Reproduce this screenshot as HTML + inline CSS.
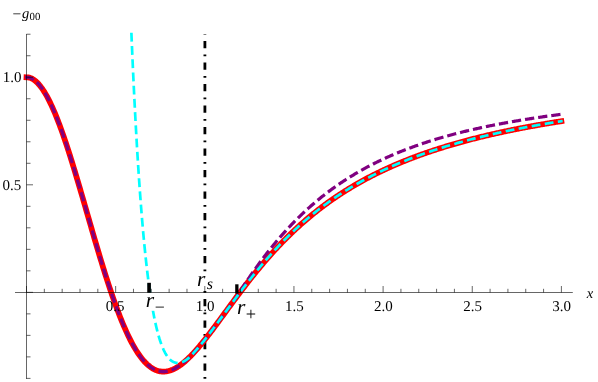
<!DOCTYPE html>
<html><head><meta charset="utf-8"><title>plot</title><style>
html,body{margin:0;padding:0;background:#fff;overflow:hidden}
svg{display:block}
text{font-family:"Liberation Serif",serif;fill:#000;text-rendering:geometricPrecision}
</style></head><body>
<svg width="598" height="382" viewBox="0 0 598 382">
<rect width="598" height="382" fill="#fff"/>
<line x1="204.9" y1="34.2" x2="204.9" y2="379.2" stroke="#000" stroke-width="2.8" stroke-dasharray="1.8 6.25 7.2 6.26" stroke-dashoffset="1.3"/>
<path d="M26.50 77.25L27.39 77.29L28.28 77.40L29.17 77.59L30.07 77.85L30.96 78.18L31.85 78.59L32.74 79.08L33.63 79.64L34.52 80.27L35.41 80.97L36.31 81.75L37.20 82.60L38.09 83.52L38.98 84.51L39.87 85.57L40.76 86.70L41.66 87.89L42.55 89.16L43.44 90.49L44.33 91.89L45.22 93.36L46.11 94.88L47.00 96.48L47.90 98.13L48.79 99.85L49.68 101.62L50.57 103.46L51.46 105.35L52.35 107.30L53.25 109.30L54.14 111.36L55.03 113.47L55.92 115.64L56.81 117.85L57.70 120.12L58.59 122.43L59.49 124.79L60.38 127.19L61.27 129.64L62.16 132.13L63.05 134.66L63.94 137.24L64.83 139.85L65.73 142.49L66.62 145.17L67.51 147.89L68.40 150.64L69.29 153.42L70.18 156.23L71.08 159.06L71.97 161.92L72.86 164.81L73.75 167.72L74.64 170.66L75.53 173.61L76.42 176.59L77.32 179.58L78.21 182.59L79.10 185.61L79.99 188.64L80.88 191.69L81.77 194.75L82.66 197.81L83.56 200.89L84.45 203.97L85.34 207.05L86.23 210.14L87.12 213.23L88.01 216.32L88.91 219.41L89.80 222.49L90.69 225.57L91.58 228.65L92.47 231.72L93.36 234.78L94.25 237.84L95.15 240.88L96.04 243.91L96.93 246.93L97.82 249.93L98.71 252.92L99.60 255.89L100.49 258.84L101.39 261.77L102.28 264.68L103.17 267.57L104.06 270.44L104.95 273.28L105.84 276.10L106.74 278.89L107.63 281.66L108.52 284.39L109.41 287.10L110.30 289.77L111.19 292.42L112.08 295.03L112.98 297.61L113.87 300.15L114.76 302.66L115.65 305.13L116.54 307.57L117.43 309.96L118.32 312.32L119.22 314.64L120.11 316.92L121.00 319.16L121.89 321.35L122.78 323.51L123.67 325.62L124.57 327.69L125.46 329.71L126.35 331.69L127.24 333.62L128.13 335.50L129.02 337.35L129.91 339.14L130.81 340.89L131.70 342.58L132.59 344.24L133.48 345.84L134.37 347.39L135.26 348.90L136.15 350.36L137.05 351.77L137.94 353.13L138.83 354.44L139.72 355.70L140.61 356.91L141.50 358.07L142.40 359.18L143.29 360.24L144.18 361.26L145.07 362.22L145.96 363.14L146.85 364.00L147.74 364.82L148.64 365.59L149.53 366.31L150.42 366.99L151.31 367.61L152.20 368.19L153.09 368.72L153.98 369.21L154.88 369.65L155.77 370.04L156.66 370.39L157.55 370.69L158.44 370.95L159.33 371.16L160.23 371.34L161.12 371.46L162.01 371.55L162.90 371.60L163.79 371.60L164.68 371.57L165.57 371.49L166.47 371.38L167.36 371.23L168.25 371.04L169.14 370.81L170.03 370.55L170.92 370.25L171.81 369.91L172.71 369.55L173.60 369.15L174.49 368.71L175.38 368.25L176.27 367.75L177.16 367.22L178.06 366.66L178.95 366.08L179.84 365.46L180.73 364.82L181.62 364.15L182.51 363.46L183.40 362.74L184.30 361.99L185.19 361.22L186.08 360.43L186.97 359.62L187.86 358.78L188.75 357.93L189.64 357.05L190.54 356.15L191.43 355.24L192.32 354.30L193.21 353.35L194.10 352.38L194.99 351.40L195.89 350.40L196.78 349.38L197.67 348.35L198.56 347.31L199.45 346.26L200.34 345.19L201.23 344.11L202.13 343.01L203.02 341.91L203.91 340.80L204.80 339.68L205.69 338.55L206.58 337.41L207.47 336.26L208.37 335.10L209.26 333.94L210.15 332.77L211.04 331.60L211.93 330.42L212.82 329.23L213.72 328.04L214.61 326.84L215.50 325.64L216.39 324.44L217.28 323.24L218.17 322.03L219.06 320.82L219.96 319.60L220.85 318.39L221.74 317.17L222.63 315.96L223.52 314.74L224.41 313.52L225.30 312.30L226.20 311.08L227.09 309.87L227.98 308.65L228.87 307.43L229.76 306.22L230.65 305.01L231.55 303.79L232.44 302.59L233.33 301.38L234.22 300.17L235.11 298.97L236.00 297.77L236.89 296.58L237.79 295.38L238.68 294.19L239.57 293.01L240.46 291.83L241.35 290.65L242.24 289.47L243.13 288.30L244.03 287.14L244.92 285.97L245.81 284.82L246.70 283.66L247.59 282.52L248.48 281.37L249.38 280.23L250.27 279.10L251.16 277.97L252.05 276.85L252.94 275.73L253.83 274.62L254.72 273.52L255.62 272.41L256.51 271.32L257.40 270.23L258.29 269.14L259.18 268.07L260.07 266.99L260.96 265.93L261.86 264.87L262.75 263.81L263.64 262.76L264.53 261.72L265.42 260.68L266.31 259.65L267.21 258.62L268.10 257.61L268.99 256.59L269.88 255.59L270.77 254.59L271.66 253.59L272.55 252.60L273.45 251.62L274.34 250.64L275.23 249.67L276.12 248.71L277.01 247.75L277.90 246.80L278.79 245.86L279.69 244.92L280.58 243.98L281.47 243.06L282.36 242.13L283.25 241.22L284.14 240.31L285.04 239.41L285.93 238.51L286.82 237.62L287.71 236.74L288.60 235.86L289.49 234.98L290.38 234.12L291.28 233.26L292.17 232.40L293.06 231.55L293.95 230.71L294.84 229.87L295.73 229.04L296.62 228.21L297.52 227.39L298.41 226.58L299.30 225.77L300.19 224.96L301.08 224.17L301.97 223.37L302.87 222.59L303.76 221.81L304.65 221.03L305.54 220.26L306.43 219.49L307.32 218.74L308.21 217.98L309.11 217.23L310.00 216.49L310.89 215.75L311.78 215.02L312.67 214.29L313.56 213.57L314.45 212.85L315.35 212.14L316.24 211.43L317.13 210.73L318.02 210.03L318.91 209.34L319.80 208.65L320.70 207.97L321.59 207.29L322.48 206.62L323.37 205.95L324.26 205.28L325.15 204.62L326.04 203.97L326.94 203.32L327.83 202.68L328.72 202.03L329.61 201.40L330.50 200.77L331.39 200.14L332.28 199.52L333.18 198.90L334.07 198.29L334.96 197.68L335.85 197.07L336.74 196.47L337.63 195.87L338.53 195.28L339.42 194.69L340.31 194.11L341.20 193.53L342.09 192.95L342.98 192.38L343.87 191.81L344.77 191.25L345.66 190.69L346.55 190.13L347.44 189.58L348.33 189.03L349.22 188.48L350.11 187.94L351.01 187.41L351.90 186.87L352.79 186.34L353.68 185.82L354.57 185.29L355.46 184.77L356.36 184.26L357.25 183.75L358.14 183.24L359.03 182.73L359.92 182.23L360.81 181.73L361.70 181.24L362.60 180.75L363.49 180.26L364.38 179.78L365.27 179.29L366.16 178.82L367.05 178.34L367.94 177.87L368.84 177.40L369.73 176.94L370.62 176.47L371.51 176.01L372.40 175.56L373.29 175.10L374.19 174.65L375.08 174.21L375.97 173.76L376.86 173.32L377.75 172.88L378.64 172.45L379.53 172.02L380.43 171.59L381.32 171.16L382.21 170.74L383.10 170.32L383.99 169.90L384.88 169.48L385.77 169.07L386.67 168.66L387.56 168.25L388.45 167.85L389.34 167.44L390.23 167.04L391.12 166.65L392.01 166.25L392.91 165.86L393.80 165.47L394.69 165.08L395.58 164.70L396.47 164.32L397.36 163.94L398.26 163.56L399.15 163.19L400.04 162.81L400.93 162.44L401.82 162.08L402.71 161.71L403.60 161.35L404.50 160.99L405.39 160.63L406.28 160.27L407.17 159.92L408.06 159.57L408.95 159.22L409.85 158.87L410.74 158.53L411.63 158.18L412.52 157.84L413.41 157.50L414.30 157.17L415.19 156.83L416.09 156.50L416.98 156.17L417.87 155.84L418.76 155.51L419.65 155.19L420.54 154.87L421.43 154.55L422.33 154.23L423.22 153.91L424.11 153.60L425.00 153.28L425.89 152.97L426.78 152.66L427.68 152.36L428.57 152.05L429.46 151.75L430.35 151.45L431.24 151.15L432.13 150.85L433.02 150.55L433.92 150.26L434.81 149.96L435.70 149.67L436.59 149.38L437.48 149.10L438.37 148.81L439.26 148.53L440.16 148.24L441.05 147.96L441.94 147.68L442.83 147.41L443.72 147.13L444.61 146.86L445.51 146.58L446.40 146.31L447.29 146.04L448.18 145.77L449.07 145.51L449.96 145.24L450.85 144.98L451.75 144.72L452.64 144.46L453.53 144.20L454.42 143.94L455.31 143.68L456.20 143.43L457.09 143.17L457.99 142.92L458.88 142.67L459.77 142.42L460.66 142.18L461.55 141.93L462.44 141.69L463.34 141.44L464.23 141.20L465.12 140.96L466.01 140.72L466.90 140.48L467.79 140.25L468.68 140.01L469.58 139.78L470.47 139.54L471.36 139.31L472.25 139.08L473.14 138.85L474.03 138.62L474.92 138.40L475.82 138.17L476.71 137.95L477.60 137.73L478.49 137.51L479.38 137.28L480.27 137.07L481.17 136.85L482.06 136.63L482.95 136.42L483.84 136.20L484.73 135.99L485.62 135.78L486.51 135.56L487.41 135.35L488.30 135.15L489.19 134.94L490.08 134.73L490.97 134.53L491.86 134.32L492.75 134.12L493.65 133.92L494.54 133.72L495.43 133.51L496.32 133.32L497.21 133.12L498.10 132.92L499.00 132.73L499.89 132.53L500.78 132.34L501.67 132.14L502.56 131.95L503.45 131.76L504.34 131.57L505.24 131.38L506.13 131.19L507.02 131.01L507.91 130.82L508.80 130.64L509.69 130.45L510.58 130.27L511.48 130.09L512.37 129.91L513.26 129.72L514.15 129.55L515.04 129.37L515.93 129.19L516.83 129.01L517.72 128.84L518.61 128.66L519.50 128.49L520.39 128.31L521.28 128.14L522.17 127.97L523.07 127.80L523.96 127.63L524.85 127.46L525.74 127.29L526.63 127.13L527.52 126.96L528.41 126.79L529.31 126.63L530.20 126.47L531.09 126.30L531.98 126.14L532.87 125.98L533.76 125.82L534.65 125.66L535.55 125.50L536.44 125.34L537.33 125.18L538.22 125.03L539.11 124.87L540.00 124.71L540.90 124.56L541.79 124.41L542.68 124.25L543.57 124.10L544.46 123.95L545.35 123.80L546.24 123.65L547.14 123.50L548.03 123.35L548.92 123.20L549.81 123.05L550.70 122.91L551.59 122.76L552.49 122.62L553.38 122.47L554.27 122.33L555.16 122.18L556.05 122.04L556.94 121.90L557.83 121.76L558.73 121.62L559.62 121.48L560.51 121.34L561.40 121.20" fill="none" stroke="#ff0000" stroke-width="5.7" stroke-linecap="square" stroke-linejoin="round"/>
<path d="M25.05 77.25L26.50 77.25L27.39 77.29L28.28 77.40L29.17 77.59L30.07 77.85L30.96 78.18L31.85 78.59L32.74 79.08L33.63 79.64L34.52 80.27L35.41 80.97L36.31 81.75L37.20 82.60L38.09 83.52L38.98 84.51L39.87 85.57L40.76 86.70L41.66 87.89L42.55 89.16L43.44 90.49L44.33 91.89L45.22 93.36L46.11 94.88L47.00 96.48L47.90 98.13L48.79 99.85L49.68 101.62L50.57 103.46L51.46 105.35L52.35 107.30L53.25 109.30L54.14 111.36L55.03 113.47L55.92 115.64L56.81 117.85L57.70 120.12L58.59 122.43L59.49 124.79L60.38 127.19L61.27 129.64L62.16 132.13L63.05 134.66L63.94 137.24L64.83 139.85L65.73 142.49L66.62 145.17L67.51 147.89L68.40 150.64L69.29 153.42L70.18 156.23L71.08 159.06L71.97 161.92L72.86 164.81L73.75 167.72L74.64 170.66L75.53 173.61L76.42 176.59L77.32 179.58L78.21 182.59L79.10 185.61L79.99 188.64L80.88 191.69L81.77 194.75L82.66 197.81L83.56 200.89L84.45 203.97L85.34 207.05L86.23 210.14L87.12 213.23L88.01 216.32L88.91 219.41L89.80 222.49L90.69 225.57L91.58 228.65L92.47 231.72L93.36 234.78L94.25 237.84L95.15 240.88L96.04 243.91L96.93 246.93L97.82 249.93L98.71 252.92L99.60 255.89L100.49 258.84L101.39 261.77L102.28 264.68L103.17 267.57L104.06 270.44L104.95 273.28L105.84 276.10L106.74 278.89L107.63 281.66L108.52 284.39L109.41 287.10L110.30 289.77L111.19 292.42L112.08 295.03L112.98 297.61L113.87 300.15L114.76 302.66L115.65 305.13L116.54 307.57L117.43 309.96L118.32 312.32L119.22 314.64L120.11 316.92L121.00 319.16L121.89 321.35L122.78 323.51L123.67 325.62L124.57 327.69L125.46 329.71L126.35 331.69L127.24 333.62L128.13 335.50L129.02 337.35L129.91 339.14L130.81 340.89L131.70 342.58L132.59 344.24L133.48 345.84L134.37 347.39L135.26 348.90L136.15 350.36L137.05 351.77L137.94 353.13L138.83 354.44L139.72 355.70L140.61 356.91L141.50 358.07L142.40 359.18L143.29 360.24L144.18 361.26L145.07 362.22L145.96 363.14L146.85 364.00L147.74 364.82L148.64 365.59L149.53 366.31L150.42 366.99L151.31 367.61L152.20 368.19L153.09 368.72L153.98 369.21L154.88 369.65L155.77 370.04L156.66 370.39L157.55 370.69L158.44 370.95L159.33 371.16L160.23 371.34L161.12 371.46L162.01 371.55L162.90 371.60L163.79 371.60L164.68 371.57L165.57 371.49L166.47 371.38L167.36 371.23L168.25 371.04L169.14 370.81L170.03 370.55L170.92 370.25L171.81 369.91L172.71 369.55L173.60 369.15L174.49 368.71L175.38 368.25L176.27 367.75L177.16 367.22L178.06 366.66L178.95 366.08L179.84 365.46L180.73 364.82L181.62 364.15L182.51 363.46L183.40 362.74L184.30 361.99L185.19 361.22L186.08 360.43L186.97 359.62L187.86 358.78L188.75 357.93L189.64 357.05L190.54 356.15L191.43 355.24L192.32 354.30L193.21 353.35L194.10 352.38L194.99 351.40L195.89 350.40L196.78 349.38L197.67 348.35L198.56 347.31L199.45 346.26L200.34 345.19L201.23 344.11L202.13 343.01L203.02 341.91L203.91 340.80L204.80 339.68L205.69 338.55L206.58 337.41L207.47 336.26L208.37 335.10L209.26 333.94L210.15 332.77L211.04 331.60L211.93 330.42L212.82 329.23L213.72 328.04L214.61 326.84L215.50 325.64L216.39 324.44L217.28 323.24L218.17 322.03L219.06 320.82L219.96 319.60L220.85 318.39L221.74 317.17L222.63 315.96L223.52 314.74L224.41 313.52L225.30 312.30L226.20 311.08L227.09 309.87L227.98 308.65L228.87 307.43L229.76 306.22L230.65 305.01L231.55 303.79L232.44 302.59L233.33 301.38L234.22 300.17L235.11 298.97L236.00 297.77L236.89 296.45L237.79 295.01L238.68 293.59L239.57 292.18L240.46 290.78L241.35 289.40L242.24 288.02L243.13 286.65L244.03 285.29L244.92 283.94L245.81 282.60L246.70 281.27L247.59 279.94L248.48 278.63L249.38 277.32L250.27 276.02L251.16 274.72L252.05 273.44L252.94 272.16L253.83 270.90L254.72 269.64L255.62 268.38L256.51 267.14L257.40 265.91L258.29 264.68L259.18 263.46L260.07 262.25L260.96 261.04L261.86 259.85L262.75 258.66L263.64 257.49L264.53 256.31L265.42 255.15L266.31 254.00L267.21 252.85L268.10 251.71L268.99 250.58L269.88 249.46L270.77 248.35L271.66 247.24L272.55 246.15L273.45 245.06L274.34 243.97L275.23 242.90L276.12 241.83L277.01 240.78L277.90 239.73L278.79 238.68L279.69 237.65L280.58 236.62L281.47 235.60L282.36 234.59L283.25 233.59L284.14 232.59L285.04 231.60L285.93 230.62L286.82 229.65L287.71 228.68L288.60 227.72L289.49 226.77L290.38 225.82L291.28 224.89L292.17 223.96L293.06 223.04L293.95 222.12L294.84 221.21L295.73 220.31L296.62 219.42L297.52 218.53L298.41 217.65L299.30 216.78L300.19 215.91L301.08 215.05L301.97 214.20L302.87 213.35L303.76 212.51L304.65 211.68L305.54 210.85L306.43 210.03L307.32 209.22L308.21 208.42L309.11 207.62L310.00 206.82L310.89 206.03L311.78 205.25L312.67 204.48L313.56 203.71L314.45 202.95L315.35 202.19L316.24 201.44L317.13 200.69L318.02 199.96L318.91 199.22L319.80 198.50L320.70 197.77L321.59 197.06L322.48 196.35L323.37 195.65L324.26 194.95L325.15 194.25L326.04 193.57L326.94 192.88L327.83 192.21L328.72 191.54L329.61 190.87L330.50 190.21L331.39 189.56L332.28 188.91L333.18 188.26L334.07 187.62L334.96 186.99L335.85 186.36L336.74 185.73L337.63 185.11L338.53 184.50L339.42 183.89L340.31 183.28L341.20 182.68L342.09 182.09L342.98 181.50L343.87 180.91L344.77 180.33L345.66 179.75L346.55 179.18L347.44 178.61L348.33 178.05L349.22 177.49L350.11 176.94L351.01 176.39L351.90 175.84L352.79 175.30L353.68 174.76L354.57 174.23L355.46 173.70L356.36 173.18L357.25 172.66L358.14 172.14L359.03 171.63L359.92 171.12L360.81 170.61L361.70 170.11L362.60 169.62L363.49 169.12L364.38 168.63L365.27 168.15L366.16 167.67L367.05 167.19L367.94 166.71L368.84 166.24L369.73 165.78L370.62 165.31L371.51 164.85L372.40 164.40L373.29 163.95L374.19 163.50L375.08 163.05L375.97 162.61L376.86 162.17L377.75 161.73L378.64 161.30L379.53 160.87L380.43 160.45L381.32 160.02L382.21 159.60L383.10 159.19L383.99 158.77L384.88 158.36L385.77 157.96L386.67 157.55L387.56 157.15L388.45 156.75L389.34 156.36L390.23 155.97L391.12 155.58L392.01 155.19L392.91 154.81L393.80 154.43L394.69 154.05L395.58 153.68L396.47 153.30L397.36 152.93L398.26 152.57L399.15 152.20L400.04 151.84L400.93 151.48L401.82 151.13L402.71 150.78L403.60 150.42L404.50 150.08L405.39 149.73L406.28 149.39L407.17 149.05L408.06 148.71L408.95 148.37L409.85 148.04L410.74 147.71L411.63 147.38L412.52 147.05L413.41 146.73L414.30 146.41L415.19 146.09L416.09 145.77L416.98 145.46L417.87 145.15L418.76 144.84L419.65 144.53L420.54 144.22L421.43 143.92L422.33 143.62L423.22 143.32L424.11 143.02L425.00 142.73L425.89 142.43L426.78 142.14L427.68 141.85L428.57 141.57L429.46 141.28L430.35 141.00L431.24 140.72L432.13 140.44L433.02 140.16L433.92 139.89L434.81 139.62L435.70 139.34L436.59 139.08L437.48 138.81L438.37 138.54L439.26 138.28L440.16 138.02L441.05 137.76L441.94 137.50L442.83 137.24L443.72 136.99L444.61 136.73L445.51 136.48L446.40 136.23L447.29 135.98L448.18 135.74L449.07 135.49L449.96 135.25L450.85 135.01L451.75 134.77L452.64 134.53L453.53 134.29L454.42 134.06L455.31 133.82L456.20 133.59L457.09 133.36L457.99 133.13L458.88 132.91L459.77 132.68L460.66 132.46L461.55 132.23L462.44 132.01L463.34 131.79L464.23 131.57L465.12 131.36L466.01 131.14L466.90 130.93L467.79 130.71L468.68 130.50L469.58 130.29L470.47 130.08L471.36 129.88L472.25 129.67L473.14 129.47L474.03 129.26L474.92 129.06L475.82 128.86L476.71 128.66L477.60 128.46L478.49 128.26L479.38 128.07L480.27 127.87L481.17 127.68L482.06 127.49L482.95 127.30L483.84 127.11L484.73 126.92L485.62 126.73L486.51 126.55L487.41 126.36L488.30 126.18L489.19 126.00L490.08 125.81L490.97 125.63L491.86 125.46L492.75 125.28L493.65 125.10L494.54 124.92L495.43 124.75L496.32 124.58L497.21 124.40L498.10 124.23L499.00 124.06L499.89 123.89L500.78 123.72L501.67 123.56L502.56 123.39L503.45 123.22L504.34 123.06L505.24 122.90L506.13 122.73L507.02 122.57L507.91 122.41L508.80 122.25L509.69 122.09L510.58 121.94L511.48 121.78L512.37 121.62L513.26 121.47L514.15 121.31L515.04 121.16L515.93 121.01L516.83 120.86L517.72 120.71L518.61 120.56L519.50 120.41L520.39 120.26L521.28 120.12L522.17 119.97L523.07 119.82L523.96 119.68L524.85 119.54L525.74 119.39L526.63 119.25L527.52 119.11L528.41 118.97L529.31 118.83L530.20 118.69L531.09 118.56L531.98 118.42L532.87 118.28L533.76 118.15L534.65 118.01L535.55 117.88L536.44 117.74L537.33 117.61L538.22 117.48L539.11 117.35L540.00 117.22L540.90 117.09L541.79 116.96L542.68 116.83L543.57 116.71L544.46 116.58L545.35 116.45L546.24 116.33L547.14 116.20L548.03 116.08L548.92 115.96L549.81 115.83L550.70 115.71L551.59 115.59L552.49 115.47L553.38 115.35L554.27 115.23L555.16 115.11L556.05 115.00L556.94 114.88L557.83 114.76L558.73 114.65L559.62 114.53L560.51 114.42L561.40 114.30" fill="none" stroke="#800080" stroke-width="3.2" stroke-dasharray="9.3 3.96" stroke-dashoffset="-0" stroke-linejoin="round"/>
<path d="M131.38 32.80L131.52 36.17L131.66 39.51L131.80 42.82L131.94 46.10L132.08 49.35L132.22 52.57L132.36 55.76L132.50 58.92L132.64 62.05L132.78 65.16L132.91 68.24L133.05 71.28L133.19 74.30L133.33 77.30L133.47 80.26L133.61 83.20L133.75 86.12L133.89 89.00L134.03 91.86L134.17 94.70L134.31 97.50L134.45 100.29L134.59 103.04L134.73 105.78L134.87 108.48L135.00 111.16L135.14 113.82L135.28 116.46L135.42 119.07L135.56 121.65L135.70 124.21L135.84 126.75L135.98 129.27L136.12 131.76L136.26 134.23L136.40 136.68L136.54 139.10L136.68 141.51L136.82 143.89L136.95 146.25L137.09 148.59L137.23 150.90L137.37 153.20L137.51 155.47L137.65 157.72L137.79 159.95L137.93 162.17L138.07 164.36L138.21 166.53L138.35 168.68L138.49 170.81L138.63 172.92L138.77 175.02L138.91 177.09L139.04 179.14L139.18 181.18L139.32 183.19L139.46 185.19L139.60 187.17L139.74 189.13L139.88 191.07L140.02 193.00L140.16 194.90L140.30 196.79L140.44 198.67L140.58 200.52L140.72 202.36L140.86 204.18L141.00 205.98L141.13 207.76L141.27 209.53L141.41 211.29L141.55 213.02L141.69 214.74L141.83 216.45L141.97 218.14L142.11 219.81L142.25 221.46L142.39 223.10L142.53 224.73L142.67 226.34L142.81 227.94L142.95 229.52L143.08 231.08L143.22 232.63L143.36 234.17L143.50 235.69L143.64 237.19L143.78 238.69L143.92 240.17L144.06 241.63L144.20 243.08L144.34 244.52L144.48 245.94L144.62 247.35L144.76 248.74L144.90 250.13L145.04 251.50L145.17 252.85L145.31 254.19L145.45 255.52L145.59 256.84L145.73 258.15L145.87 259.44L146.01 260.72L146.15 261.98L146.29 263.24L146.43 264.48L146.57 265.71L146.71 266.93L146.85 268.14L146.99 269.33L147.13 270.52L147.26 271.69L147.40 272.85L147.54 274.00L147.68 275.13L147.82 276.26L147.96 277.37L148.10 278.48L148.24 279.57L148.38 280.65L148.52 281.73L148.66 282.79L148.80 283.84L148.94 284.88L149.08 285.91L149.21 286.93L149.35 287.93L149.49 288.93L149.63 289.92L149.77 290.90L149.91 291.87L150.05 292.83L150.19 293.78L150.33 294.72L150.47 295.65L150.61 296.57L150.75 297.48L150.89 298.38L151.03 299.28L151.17 300.16L151.30 301.03L151.44 301.90L151.58 302.75L151.72 303.60L151.86 304.44L152.00 305.27L152.14 306.09L152.28 306.91L152.42 307.71L152.56 308.51L152.70 309.29L152.84 310.07L152.98 310.84L153.12 311.61L153.26 312.36L153.39 313.11L153.53 313.84L153.67 314.58L153.81 315.30L153.95 316.01L154.09 316.72L154.23 317.42L154.37 318.11L154.51 318.80L154.65 319.47L154.79 320.14L154.93 320.81L155.07 321.46L155.21 322.11L155.34 322.75L155.48 323.38L155.62 324.01L155.76 324.63L155.90 325.24L156.04 325.85L156.18 326.44L156.32 327.04L156.46 327.62L156.60 328.20L156.74 328.77L156.88 329.34L157.02 329.90L157.16 330.45L157.30 330.99L157.43 331.53L157.57 332.07L157.71 332.59L157.85 333.11L157.99 333.63L158.13 334.14L158.27 334.64L158.41 335.14L158.55 335.63L158.69 336.11L158.83 336.59L158.97 337.06L159.11 337.53L159.25 337.99L159.39 338.45L159.52 338.90L159.66 339.34L159.80 339.78L159.94 340.22L160.08 340.65L160.22 341.07L160.36 341.49L160.50 341.90L160.64 342.30L160.78 342.71L160.92 343.10L161.06 343.49L161.20 343.88L161.34 344.26L161.47 344.64L161.61 345.01L161.75 345.38L161.89 345.74L162.03 346.09L162.17 346.45L162.31 346.79L162.45 347.13L162.59 347.47L162.73 347.80L162.87 348.13L163.01 348.46L163.15 348.78L163.29 349.09L163.43 349.40L163.56 349.71L163.70 350.01L163.84 350.30L163.98 350.60L164.12 350.88L164.26 351.17L164.40 351.45L164.54 351.72L164.68 351.99L164.82 352.26L164.96 352.52L165.10 352.78L165.24 353.04L165.38 353.29L165.52 353.54L165.65 353.78L165.79 354.02L165.93 354.25L166.07 354.48L166.21 354.71L166.35 354.94L166.49 355.16L166.63 355.37L166.77 355.58L166.91 355.79L167.05 356.00L167.19 356.20L167.33 356.40L167.47 356.59L167.60 356.78L167.74 356.97L167.88 357.16L168.02 357.34L168.16 357.51L168.30 357.69L168.44 357.86L168.58 358.03L168.72 358.19L168.86 358.35L169.00 358.51L169.14 358.66L169.28 358.81L169.42 358.96L169.56 359.11L169.69 359.25L169.83 359.39L169.97 359.52L170.11 359.65L170.25 359.78L170.39 359.91L170.53 360.03L170.67 360.15L170.81 360.27L170.95 360.39L171.09 360.50L171.23 360.61L171.37 360.71L171.51 360.82L171.65 360.92L171.78 361.01L171.92 361.11L172.06 361.20L172.20 361.29L172.34 361.38L172.48 361.46L172.62 361.55L172.76 361.62L172.90 361.70L173.04 361.77L173.18 361.85L173.32 361.92L173.46 361.98L173.60 362.05L173.73 362.11L173.87 362.17L174.01 362.22L174.15 362.28L174.29 362.33L174.43 362.38L174.57 362.43L174.71 362.47L174.85 362.51L174.99 362.55L175.13 362.59L175.27 362.63L175.41 362.66L175.55 362.69L175.69 362.72L175.82 362.75L175.96 362.77L176.10 362.79L176.24 362.81L176.38 362.83L176.52 362.85L176.66 362.86L176.80 362.88L176.94 362.89L177.08 362.89L177.22 362.90L177.36 362.90L177.50 362.91L177.64 362.91L177.78 362.91L177.91 362.90L178.05 362.90L178.19 362.89L178.33 362.88L178.47 362.87L178.61 362.85L178.75 362.84L178.89 362.82L179.03 362.81L179.17 362.78L179.31 362.76L179.45 362.74L179.59 362.71L179.73 362.69L179.86 362.66L180.00 362.63L180.14 362.60L180.28 362.57L180.42 362.53L180.56 362.50L180.70 362.46L180.84 362.43L180.98 362.39L181.12 362.36L181.26 362.32L181.40 362.28L181.54 362.23L181.68 362.19L181.82 362.15L181.95 362.10L182.09 362.05L182.23 362.00L182.37 361.95L182.51 361.90L182.65 361.85L182.79 361.79L182.93 361.74L183.07 361.68L183.21 361.62L183.35 361.56L183.49 361.49L183.63 361.43L183.77 361.36L183.91 361.29L184.04 361.22L184.18 361.15L184.32 361.08L184.46 361.00L184.60 360.92L184.74 360.85L184.88 360.77L185.02 360.68L185.16 360.60L185.30 360.51L185.44 360.43L185.58 360.34L185.72 360.25L185.86 360.16L185.99 360.06L186.13 359.97L186.27 359.87L186.41 359.77L186.55 359.67L186.69 359.57L186.83 359.47L186.97 359.36L187.86 358.65L188.75 357.89L189.64 357.08L190.54 356.21L191.43 355.31L192.32 354.38L193.21 353.42L194.10 352.43L194.99 351.43L195.89 350.41L196.78 349.39L197.67 348.35L198.56 347.31L199.45 346.26L200.34 345.19L201.23 344.11L202.13 343.01L203.02 341.91L203.91 340.80L204.80 339.68L205.69 338.55L206.58 337.41L207.47 336.26L208.37 335.10L209.26 333.94L210.15 332.77L211.04 331.60L211.93 330.42L212.82 329.23L213.72 328.04L214.61 326.84L215.50 325.64L216.39 324.44L217.28 323.24L218.17 322.03L219.06 320.82L219.96 319.60L220.85 318.39L221.74 317.17L222.63 315.96L223.52 314.74L224.41 313.52L225.30 312.30L226.20 311.08L227.09 309.87L227.98 308.65L228.87 307.43L229.76 306.22L230.65 305.01L231.54 303.79L232.44 302.59L233.33 301.38L234.22 300.17L235.11 298.97L236.00 297.77L236.89 296.58L237.79 295.38L238.68 294.19L239.57 293.01L240.46 291.83L241.35 290.65L242.24 289.47L243.13 288.30L244.03 287.14L244.92 285.97L245.81 284.82L246.70 283.66L247.59 282.52L248.48 281.37L249.38 280.23L250.27 279.10L251.16 277.97L252.05 276.85L252.94 275.73L253.83 274.62L254.72 273.52L255.62 272.41L256.51 271.32L257.40 270.23L258.29 269.14L259.18 268.07L260.07 266.99L260.96 265.93L261.86 264.87L262.75 263.81L263.64 262.76L264.53 261.72L265.42 260.68L266.31 259.65L267.21 258.62L268.10 257.61L268.99 256.59L269.88 255.59L270.77 254.59L271.66 253.59L272.55 252.60L273.45 251.62L274.34 250.64L275.23 249.67L276.12 248.71L277.01 247.75L277.90 246.80L278.79 245.86L279.69 244.92L280.58 243.98L281.47 243.06L282.36 242.13L283.25 241.22L284.14 240.31L285.04 239.41L285.93 238.51L286.82 237.62L287.71 236.74L288.60 235.86L289.49 234.98L290.38 234.12L291.28 233.26L292.17 232.40L293.06 231.55L293.95 230.71L294.84 229.87L295.73 229.04L296.62 228.21L297.52 227.39L298.41 226.58L299.30 225.77L300.19 224.96L301.08 224.17L301.97 223.37L302.87 222.59L303.76 221.81L304.65 221.03L305.54 220.26L306.43 219.49L307.32 218.74L308.21 217.98L309.11 217.23L310.00 216.49L310.89 215.75L311.78 215.02L312.67 214.29L313.56 213.57L314.45 212.85L315.35 212.14L316.24 211.43L317.13 210.73L318.02 210.03L318.91 209.34L319.80 208.65L320.69 207.97L321.59 207.29L322.48 206.62L323.37 205.95L324.26 205.28L325.15 204.62L326.04 203.97L326.94 203.32L327.83 202.68L328.72 202.03L329.61 201.40L330.50 200.77L331.39 200.14L332.28 199.52L333.18 198.90L334.07 198.29L334.96 197.68L335.85 197.07L336.74 196.47L337.63 195.87L338.53 195.28L339.42 194.69L340.31 194.11L341.20 193.53L342.09 192.95L342.98 192.38L343.87 191.81L344.77 191.25L345.66 190.69L346.55 190.13L347.44 189.58L348.33 189.03L349.22 188.48L350.11 187.94L351.01 187.41L351.90 186.87L352.79 186.34L353.68 185.82L354.57 185.29L355.46 184.77L356.36 184.26L357.25 183.75L358.14 183.24L359.03 182.73L359.92 182.23L360.81 181.73L361.70 181.24L362.60 180.75L363.49 180.26L364.38 179.78L365.27 179.29L366.16 178.82L367.05 178.34L367.94 177.87L368.84 177.40L369.73 176.94L370.62 176.47L371.51 176.01L372.40 175.56L373.29 175.10L374.19 174.65L375.08 174.21L375.97 173.76L376.86 173.32L377.75 172.88L378.64 172.45L379.53 172.02L380.43 171.59L381.32 171.16L382.21 170.74L383.10 170.32L383.99 169.90L384.88 169.48L385.77 169.07L386.67 168.66L387.56 168.25L388.45 167.85L389.34 167.44L390.23 167.04L391.12 166.65L392.02 166.25L392.91 165.86L393.80 165.47L394.69 165.08L395.58 164.70L396.47 164.32L397.36 163.94L398.26 163.56L399.15 163.19L400.04 162.81L400.93 162.44L401.82 162.08L402.71 161.71L403.60 161.35L404.50 160.99L405.39 160.63L406.28 160.27L407.17 159.92L408.06 159.57L408.95 159.22L409.85 158.87L410.74 158.53L411.63 158.18L412.52 157.84L413.41 157.50L414.30 157.17L415.19 156.83L416.09 156.50L416.98 156.17L417.87 155.84L418.76 155.51L419.65 155.19L420.54 154.87L421.43 154.55L422.33 154.23L423.22 153.91L424.11 153.60L425.00 153.28L425.89 152.97L426.78 152.66L427.68 152.36L428.57 152.05L429.46 151.75L430.35 151.45L431.24 151.15L432.13 150.85L433.02 150.55L433.92 150.26L434.81 149.96L435.70 149.67L436.59 149.38L437.48 149.10L438.37 148.81L439.26 148.53L440.16 148.24L441.05 147.96L441.94 147.68L442.83 147.41L443.72 147.13L444.61 146.86L445.51 146.58L446.40 146.31L447.29 146.04L448.18 145.77L449.07 145.51L449.96 145.24L450.85 144.98L451.75 144.72L452.64 144.46L453.53 144.20L454.42 143.94L455.31 143.68L456.20 143.43L457.09 143.17L457.99 142.92L458.88 142.67L459.77 142.42L460.66 142.18L461.55 141.93L462.44 141.69L463.34 141.44L464.23 141.20L465.12 140.96L466.01 140.72L466.90 140.48L467.79 140.25L468.68 140.01L469.58 139.78L470.47 139.54L471.36 139.31L472.25 139.08L473.14 138.85L474.03 138.62L474.92 138.40L475.82 138.17L476.71 137.95L477.60 137.73L478.49 137.51L479.38 137.28L480.27 137.07L481.17 136.85L482.06 136.63L482.95 136.42L483.84 136.20L484.73 135.99L485.62 135.78L486.51 135.56L487.41 135.35L488.30 135.15L489.19 134.94L490.08 134.73L490.97 134.53L491.86 134.32L492.75 134.12L493.65 133.92L494.54 133.72L495.43 133.51L496.32 133.32L497.21 133.12L498.10 132.92L499.00 132.73L499.89 132.53L500.78 132.34L501.67 132.14L502.56 131.95L503.45 131.76L504.34 131.57L505.24 131.38L506.13 131.19L507.02 131.01L507.91 130.82L508.80 130.64L509.69 130.45L510.58 130.27L511.48 130.09L512.37 129.91L513.26 129.72L514.15 129.55L515.04 129.37L515.93 129.19L516.83 129.01L517.72 128.84L518.61 128.66L519.50 128.49L520.39 128.31L521.28 128.14L522.17 127.97L523.07 127.80L523.96 127.63L524.85 127.46L525.74 127.29L526.63 127.13L527.52 126.96L528.41 126.79L529.31 126.63L530.20 126.47L531.09 126.30L531.98 126.14L532.87 125.98L533.76 125.82L534.65 125.66L535.55 125.50L536.44 125.34L537.33 125.18L538.22 125.03L539.11 124.87L540.00 124.71L540.90 124.56L541.79 124.41L542.68 124.25L543.57 124.10L544.46 123.95L545.35 123.80L546.24 123.65L547.14 123.50L548.03 123.35L548.92 123.20L549.81 123.05L550.70 122.91L551.59 122.76L552.49 122.62L553.38 122.47L554.27 122.33L555.16 122.18L556.05 122.04L556.94 121.90L557.83 121.76L558.73 121.62L559.62 121.48L560.51 121.34L561.40 121.20L562.70 121.02" fill="none" stroke="#00ffff" stroke-width="2.7" stroke-dasharray="8.85 4.39" stroke-linejoin="round"/>
<rect x="145.5" y="293.2" width="20.5" height="17.6" fill="#fff"/>
<rect x="196.5" y="272.3" width="17" height="18" fill="#fff"/>
<rect x="147.25" y="282.8" width="3.65" height="9.9" fill="#000"/>
<rect x="235.2" y="284.3" width="3.3" height="9.3" fill="#000"/>
<g stroke="#000" stroke-opacity="0.6" stroke-width="1" fill="none">
<line x1="15" y1="292.5" x2="572.8" y2="292.5"/>
<line x1="26.5" y1="34" x2="26.5" y2="379"/>
<line x1="26.50" y1="292.5" x2="26.50" y2="286.00"/>
<line x1="44.33" y1="292.5" x2="44.33" y2="288.80"/>
<line x1="62.16" y1="292.5" x2="62.16" y2="288.80"/>
<line x1="79.99" y1="292.5" x2="79.99" y2="288.80"/>
<line x1="97.82" y1="292.5" x2="97.82" y2="288.80"/>
<line x1="115.65" y1="292.5" x2="115.65" y2="286.00"/>
<line x1="133.48" y1="292.5" x2="133.48" y2="288.80"/>
<line x1="151.31" y1="292.5" x2="151.31" y2="288.80"/>
<line x1="169.14" y1="292.5" x2="169.14" y2="288.80"/>
<line x1="186.97" y1="292.5" x2="186.97" y2="288.80"/>
<line x1="204.80" y1="292.5" x2="204.80" y2="286.00"/>
<line x1="222.63" y1="292.5" x2="222.63" y2="288.80"/>
<line x1="240.46" y1="292.5" x2="240.46" y2="288.80"/>
<line x1="258.29" y1="292.5" x2="258.29" y2="288.80"/>
<line x1="276.12" y1="292.5" x2="276.12" y2="288.80"/>
<line x1="293.95" y1="292.5" x2="293.95" y2="286.00"/>
<line x1="311.78" y1="292.5" x2="311.78" y2="288.80"/>
<line x1="329.61" y1="292.5" x2="329.61" y2="288.80"/>
<line x1="347.44" y1="292.5" x2="347.44" y2="288.80"/>
<line x1="365.27" y1="292.5" x2="365.27" y2="288.80"/>
<line x1="383.10" y1="292.5" x2="383.10" y2="286.00"/>
<line x1="400.93" y1="292.5" x2="400.93" y2="288.80"/>
<line x1="418.76" y1="292.5" x2="418.76" y2="288.80"/>
<line x1="436.59" y1="292.5" x2="436.59" y2="288.80"/>
<line x1="454.42" y1="292.5" x2="454.42" y2="288.80"/>
<line x1="472.25" y1="292.5" x2="472.25" y2="286.00"/>
<line x1="490.08" y1="292.5" x2="490.08" y2="288.80"/>
<line x1="507.91" y1="292.5" x2="507.91" y2="288.80"/>
<line x1="525.74" y1="292.5" x2="525.74" y2="288.80"/>
<line x1="543.57" y1="292.5" x2="543.57" y2="288.80"/>
<line x1="561.40" y1="292.5" x2="561.40" y2="286.00"/>
<line x1="26.5" y1="378.39" x2="30.50" y2="378.39"/>
<line x1="26.5" y1="356.88" x2="30.50" y2="356.88"/>
<line x1="26.5" y1="335.37" x2="30.50" y2="335.37"/>
<line x1="26.5" y1="313.86" x2="30.50" y2="313.86"/>
<line x1="26.5" y1="292.35" x2="33.00" y2="292.35"/>
<line x1="26.5" y1="270.84" x2="30.50" y2="270.84"/>
<line x1="26.5" y1="249.33" x2="30.50" y2="249.33"/>
<line x1="26.5" y1="227.82" x2="30.50" y2="227.82"/>
<line x1="26.5" y1="206.31" x2="30.50" y2="206.31"/>
<line x1="26.5" y1="184.80" x2="33.00" y2="184.80"/>
<line x1="26.5" y1="163.29" x2="30.50" y2="163.29"/>
<line x1="26.5" y1="141.78" x2="30.50" y2="141.78"/>
<line x1="26.5" y1="120.27" x2="30.50" y2="120.27"/>
<line x1="26.5" y1="98.76" x2="30.50" y2="98.76"/>
<line x1="26.5" y1="77.25" x2="33.00" y2="77.25"/>
<line x1="26.5" y1="55.74" x2="30.50" y2="55.74"/>
<line x1="26.5" y1="34.23" x2="30.50" y2="34.23"/>
</g>
<defs><filter id="nf" x="-5%" y="-5%" width="110%" height="110%"><feOffset dx="0" dy="0"/></filter></defs>
<g filter="url(#nf)">
<g font-size="15">
<text x="115.1" y="311" text-anchor="middle">0.5</text>
<text x="205.1" y="311" text-anchor="middle">1.0</text>
<text x="294.3" y="311" text-anchor="middle">1.5</text>
<text x="383.4" y="311" text-anchor="middle">2.0</text>
<text x="472.6" y="311" text-anchor="middle">2.5</text>
<text x="561.7" y="311" text-anchor="middle">3.0</text>
<text x="21.6" y="82" text-anchor="end">1.0</text>
<text x="21.3" y="189.6" text-anchor="end">0.5</text>
</g>
<text x="12.4" y="19.1" font-size="15.5">−</text>
<text x="22" y="18.1" font-size="14.5" font-style="italic">g</text>
<text x="29.5" y="20" font-size="10.8">00</text>
<text x="586.8" y="297.7" font-size="14.5" font-style="italic">x</text>
<g font-style="italic" font-size="21.5">
<text x="145.8" y="306.7">r</text>
<text x="197.1" y="285.9">r</text>
<text x="237" y="314">r</text>
<text x="206.8" y="289.3" font-size="16">s</text>
</g>
<text x="154.8" y="312.5" font-size="17.8">−</text>
<text x="245.7" y="319.7" font-size="18.3">+</text>
</g>
</svg>
</body></html>
